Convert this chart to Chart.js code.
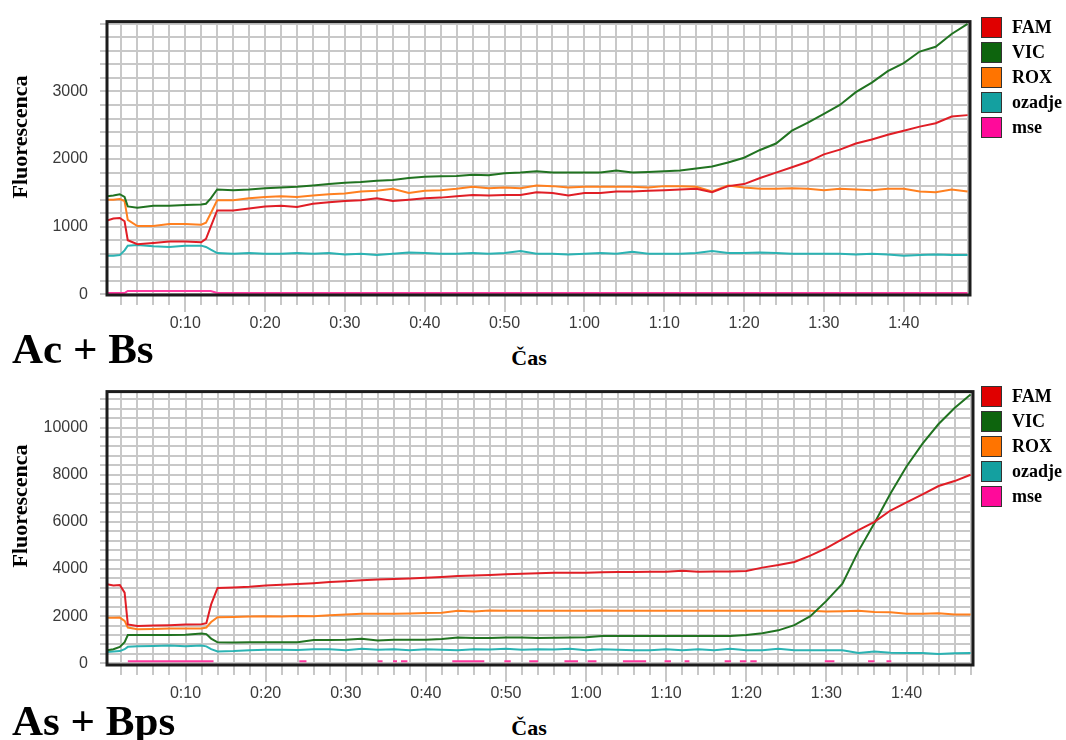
<!DOCTYPE html>
<html>
<head>
<meta charset="utf-8">
<script src="https://cdn.jsdelivr.net/npm/chart.js@4.4.0/dist/chart.umd.min.js"></script>
<style>
  body { margin: 0; background: #fff; }
  #wrap { position: relative; width: 1066px; height: 740px; overflow: hidden; background: #fff; }
  canvas { position: absolute; left: 0; }
  .serif { font-family: 'Liberation Serif', 'Times New Roman', serif; font-weight: bold; color: #000; position: absolute; line-height: 1; white-space: nowrap; }
  .naslov { font-size: 43px; left: 12px; }
  .osX { font-size: 22px; transform: translateX(-50%); }
  .osY { font-size: 22px; transform: translate(-50%, -50%) rotate(-90deg); }
  .legenda { position: absolute; left: 981px; }
  .legenda .vrsta { display: flex; align-items: center; height: 21px; margin-bottom: 4px; }
  .legenda .kvadrat { width: 21px; height: 21px; box-sizing: border-box; border: 1px solid #333; margin-right: 10px; }
  .legenda .ime { font-family: 'Liberation Serif', serif; font-weight: bold; font-size: 18px; }
</style>
</head>
<body>
<div id="wrap">
  <canvas id="grafA" width="1066" height="345" style="top:0"></canvas>
  <canvas id="grafB" width="1066" height="345" style="top:370px"></canvas>

  <div class="serif osY" style="left:20px; top:137px">Fluorescenca</div>
  <div class="serif osY" style="left:20px; top:506px">Fluorescenca</div>
  <div class="serif osX" style="left:529px; top:347px">Čas</div>
  <div class="serif osX" style="left:529px; top:717px">Čas</div>
  <div class="serif naslov" style="top:327px">Ac + Bs</div>
  <div class="serif naslov" style="top:699px">As + Bps</div>

  <div class="legenda" id="legendaA" style="top:17px"></div>
  <div class="legenda" id="legendaB" style="top:386px"></div>
</div>

<script>
// Imena in barve serij
const imena = ['FAM', 'VIC', 'ROX', 'ozadje', 'mse'];
const barveCrt = ['#e01e26', '#217321', '#ff8020', '#2bb3b3', '#ff3aa0'];
const barveLegende = ['#e00000', '#0d640d', '#ff7400', '#14a0a0', '#ff0a9a'];

// Oznake na oseh
const minuteX = [10, 20, 30, 40, 50, 60, 70, 80, 90, 100];
const oznakeX = ['0:10', '0:20', '0:30', '0:40', '0:50', '1:00', '1:10', '1:20', '1:30', '1:40'];
const oznakeYA = [0, 1000, 2000, 3000];
const oznakeYB = [0, 2000, 4000, 6000, 8000, 10000];

// ---- Ac + Bs (zgornji graf), čas v minutah ----
const casA = [0.2, 1, 1.8, 2.4, 2.8, 4, 6, 8, 10, 12, 12.6, 13.2,
  14, 16, 18, 20, 22, 24, 26, 28, 30, 32, 34, 36,
  38, 40, 42, 44, 46, 48, 50, 52, 54, 56, 58, 60,
  62, 64, 66, 68, 70, 72, 74, 76, 78, 80, 82, 84,
  86, 88, 90, 92, 94, 96, 98, 100, 102, 104, 106, 108];
const famA = [1090, 1120, 1130, 1080, 800, 740, 760, 780, 780, 770, 820, 1000,
  1240, 1240, 1270, 1300, 1310, 1290, 1340, 1360, 1380, 1390, 1420, 1380,
  1400, 1420, 1430, 1450, 1470, 1460, 1470, 1470, 1510, 1500, 1460, 1500,
  1500, 1520, 1520, 1530, 1540, 1550, 1560, 1510, 1600, 1630, 1720, 1800,
  1880, 1960, 2070, 2140, 2230, 2290, 2360, 2420, 2480, 2530, 2630, 2650];
const vicA = [1450, 1460, 1480, 1440, 1300, 1280, 1310, 1310, 1320, 1330, 1340, 1420,
  1550, 1540, 1550, 1570, 1580, 1590, 1610, 1630, 1650, 1660, 1680, 1690,
  1720, 1740, 1745, 1750, 1770, 1760, 1790, 1800, 1820, 1800, 1800, 1800,
  1800, 1830, 1800, 1810, 1820, 1830, 1860, 1890, 1950, 2020, 2135, 2230,
  2420, 2540, 2670, 2800, 2990, 3130, 3300, 3420, 3590, 3660, 3850, 4000];
const roxA = [1400, 1400, 1410, 1380, 1100, 1010, 1010, 1040, 1040, 1030, 1060, 1200,
  1390, 1390, 1420, 1440, 1450, 1440, 1460, 1480, 1490, 1520, 1530, 1560,
  1500, 1530, 1540, 1560, 1590, 1570, 1580, 1570, 1610, 1600, 1580, 1590,
  1590, 1590, 1590, 1580, 1600, 1600, 1590, 1520, 1610, 1580, 1560, 1560,
  1570, 1560, 1540, 1560, 1550, 1540, 1560, 1560, 1520, 1510, 1550, 1520];
const ozadjeA = [570, 570, 580, 650, 720, 730, 710, 700, 720, 720, 700, 660,
  610, 600, 610, 600, 600, 610, 600, 610, 590, 600, 580, 600,
  620, 610, 600, 600, 610, 600, 610, 640, 600, 600, 590, 600,
  610, 600, 630, 600, 600, 600, 610, 640, 610, 610, 620, 610,
  600, 600, 600, 600, 590, 600, 590, 570, 580, 590, 580, 580];
const mseA = [20, 20, 20, 20, 50, 50, 50, 50, 50, 50, 50, 50,
  20, 20, 20, 20, 20, 20, 20, 20, 20, 20, 20, 20,
  20, 20, 20, 20, 20, 20, 20, 20, 20, 20, 20, 20,
  20, 20, 20, 20, 20, 20, 20, 20, 20, 20, 20, 20,
  20, 20, 20, 20, 20, 20, 20, 20, 20, 20, 20, 20];

// ---- As + Bps (spodnji graf) ----
const casB = casA;
const famB = [3350, 3300, 3320, 3000, 1650, 1580, 1600, 1620, 1650, 1660, 1700, 2500,
  3200, 3220, 3250, 3300, 3330, 3360, 3400, 3450, 3480, 3520, 3560, 3580,
  3600, 3630, 3660, 3700, 3730, 3750, 3780, 3800, 3820, 3840, 3840, 3840,
  3860, 3870, 3870, 3880, 3880, 3930, 3880, 3890, 3900, 3920, 4060, 4170,
  4300, 4570, 4890, 5270, 5650, 6000, 6480, 6830, 7170, 7520, 7730, 8000];
const vicB = [550, 600, 700, 900, 1200, 1200, 1200, 1200, 1210, 1270, 1240, 1050,
  890, 880, 890, 890, 890, 900, 990, 990, 1000, 1040, 970, 1000,
  1000, 1000, 1030, 1100, 1080, 1080, 1100, 1100, 1080, 1090, 1100, 1110,
  1160, 1160, 1160, 1160, 1160, 1160, 1160, 1160, 1160, 1200, 1280, 1400,
  1620, 2000, 2650, 3380, 4760, 5950, 7200, 8350, 9320, 10150, 10830, 11400];
const roxB = [1930, 1930, 1940, 1800, 1520, 1450, 1460, 1480, 1480, 1480, 1520, 1750,
  1960, 1970, 1990, 2000, 1990, 2010, 2000, 2040, 2070, 2100, 2100, 2100,
  2110, 2130, 2150, 2230, 2200, 2240, 2230, 2230, 2230, 2230, 2230, 2230,
  2240, 2230, 2230, 2230, 2230, 2230, 2230, 2230, 2230, 2230, 2230, 2230,
  2230, 2230, 2200, 2210, 2230, 2180, 2170, 2100, 2100, 2120, 2070, 2070];
const ozadjeB = [480, 500, 520, 600, 700, 720, 740, 760, 720, 760, 720, 600,
  500, 520, 560, 580, 580, 570, 600, 600, 560, 620, 580, 600,
  560, 600, 580, 560, 600, 590, 620, 580, 600, 590, 620, 560,
  600, 580, 560, 560, 600, 560, 600, 560, 620, 560, 560, 620,
  560, 560, 560, 560, 440, 500, 450, 440, 440, 400, 430, 440];
// mse je prekinjen (null = ni točke)
const mseCasB = [2.8, 13.5, 13.6, 24.2, 25.1, 25.2, 34.0, 34.6, 34.7, 35.9, 36.4, 36.5,
  36.9, 37.7, 37.8, 43.3, 47.3, 47.4, 49.8, 50.6, 50.7, 52.9, 54.0, 54.1,
  57.3, 59.0, 59.1, 60.2, 61.3, 61.4, 64.6, 67.5, 67.6, 69.8, 70.6, 70.7,
  72.3, 72.9, 73.0, 77.3, 78.1, 78.2, 79.2, 80.0, 80.1, 80.5, 81.3, 81.4,
  89.8, 91.0, 91.1, 95.2, 96.0, 96.1, 97.5, 98.1];
const mseB = [90, 90, null, 90, 90, null, 90, 90, null, 90, 90, null,
  90, 90, null, 90, 90, null, 90, 90, null, 90, 90, null,
  90, 90, null, 90, 90, null, 90, 90, null, 90, 90, null,
  90, 90, null, 90, 90, null, 90, 90, null, 90, 90, null,
  90, 90, null, 90, 90, null, 90, 90];

// Os Y
const yA = { min: -10, max: 4033, korak: 200, oznake: oznakeYA };
const yB = { min: -70, max: 11524, korak: 400, oznake: oznakeYB };

function tocke(cas, vrednosti) {
  return cas.map((t, i) => ({ x: t, y: vrednosti[i] }));
}

// tick-i na vsak korak, brez robov
function nastaviTicke(korak) {
  return (s) => {
    const t = [];
    for (let v = Math.ceil(s.min / korak) * korak; v <= s.max; v += korak) {
      if (v > s.min) t.push({ value: Math.round(v * 10) / 10 });
    }
    s.ticks = t;
  };
}

// okvir okoli risalne površine + daljše oznake na x osi
const okvir = {
  id: 'okvir',
  afterDatasetsDraw(chart) {
    const { ctx, chartArea: a } = chart;
    const x = chart.scales.x;
    ctx.save();
    ctx.strokeStyle = '#c8c8c8';
    ctx.lineWidth = 2;
    minuteX.forEach(m => {
      const px = Math.round(x.getPixelForValue(m));
      ctx.beginPath();
      ctx.moveTo(px, a.bottom + 9);
      ctx.lineTo(px, a.bottom + 17);
      ctx.stroke();
    });
    ctx.strokeStyle = '#1c1c1c';
    ctx.lineWidth = 3;
    ctx.strokeRect(a.left, a.top, a.right - a.left, a.bottom - a.top);
    ctx.restore();
  }
};

function narediGraf(id, serije, osY, desno, zgoraj) {
  const mreza = { color: '#c8c8c8', lineWidth: 2, tickColor: '#c8c8c8' };
  return new Chart(document.getElementById(id).getContext('2d'), {
    type: 'line',
    data: {
      datasets: serije.map((s, i) => ({
        label: imena[i],
        data: s,
        borderColor: barveCrt[i],
        backgroundColor: barveCrt[i],
        borderWidth: 2,
        pointRadius: 0,
        tension: 0,
        spanGaps: false
      }))
    },
    options: {
      responsive: false,
      animation: false,
      layout: { padding: { left: 0, top: zgoraj, right: desno, bottom: 0 } },
      plugins: { legend: { display: false }, tooltip: { enabled: false } },
      scales: {
        x: {
          type: 'linear',
          min: 0.2,
          max: 108.3,
          grid: { ...mreza, tickLength: 10 },
          border: { display: false },
          afterFit: (s) => { s.height = 50; },
          afterBuildTicks: nastaviTicke(2),
          ticks: {
            autoSkip: false,
            maxRotation: 0,
            padding: 9,
            color: '#3a3a3a',
            font: { family: 'Liberation Sans', size: 16 },
            callback: (v) => {
              const i = minuteX.indexOf(v);
              return i >= 0 ? oznakeX[i] : '';
            }
          }
        },
        y: {
          min: osY.min,
          max: osY.max,
          grid: { ...mreza, tickLength: 7 },
          border: { display: false },
          afterFit: (s) => { s.width = 107; },
          afterBuildTicks: nastaviTicke(osY.korak),
          ticks: {
            autoSkip: false,
            padding: 12,
            color: '#3a3a3a',
            font: { family: 'Liberation Sans', size: 16 },
            callback: (v) => (osY.oznake.includes(v) ? String(v) : '')
          }
        }
      }
    },
    plugins: [okvir]
  });
}

function narediLegendo(id) {
  const el = document.getElementById(id);
  imena.forEach((ime, i) => {
    const vrsta = document.createElement('div');
    vrsta.className = 'vrsta';
    vrsta.innerHTML = `<div class="kvadrat" style="background:${barveLegende[i]}"></div><span class="ime">${ime}</span>`;
    el.appendChild(vrsta);
  });
}

narediGraf('grafA', [
  tocke(casA, famA), tocke(casA, vicA), tocke(casA, roxA), tocke(casA, ozadjeA), tocke(casA, mseA)
], yA, 96, 16);

narediGraf('grafB', [
  tocke(casB, famB), tocke(casB, vicB), tocke(casB, roxB), tocke(casB, ozadjeB), tocke(mseCasB, mseB)
], yB, 93, 15);

narediLegendo('legendaA');
narediLegendo('legendaB');
</script>
</body>
</html>
